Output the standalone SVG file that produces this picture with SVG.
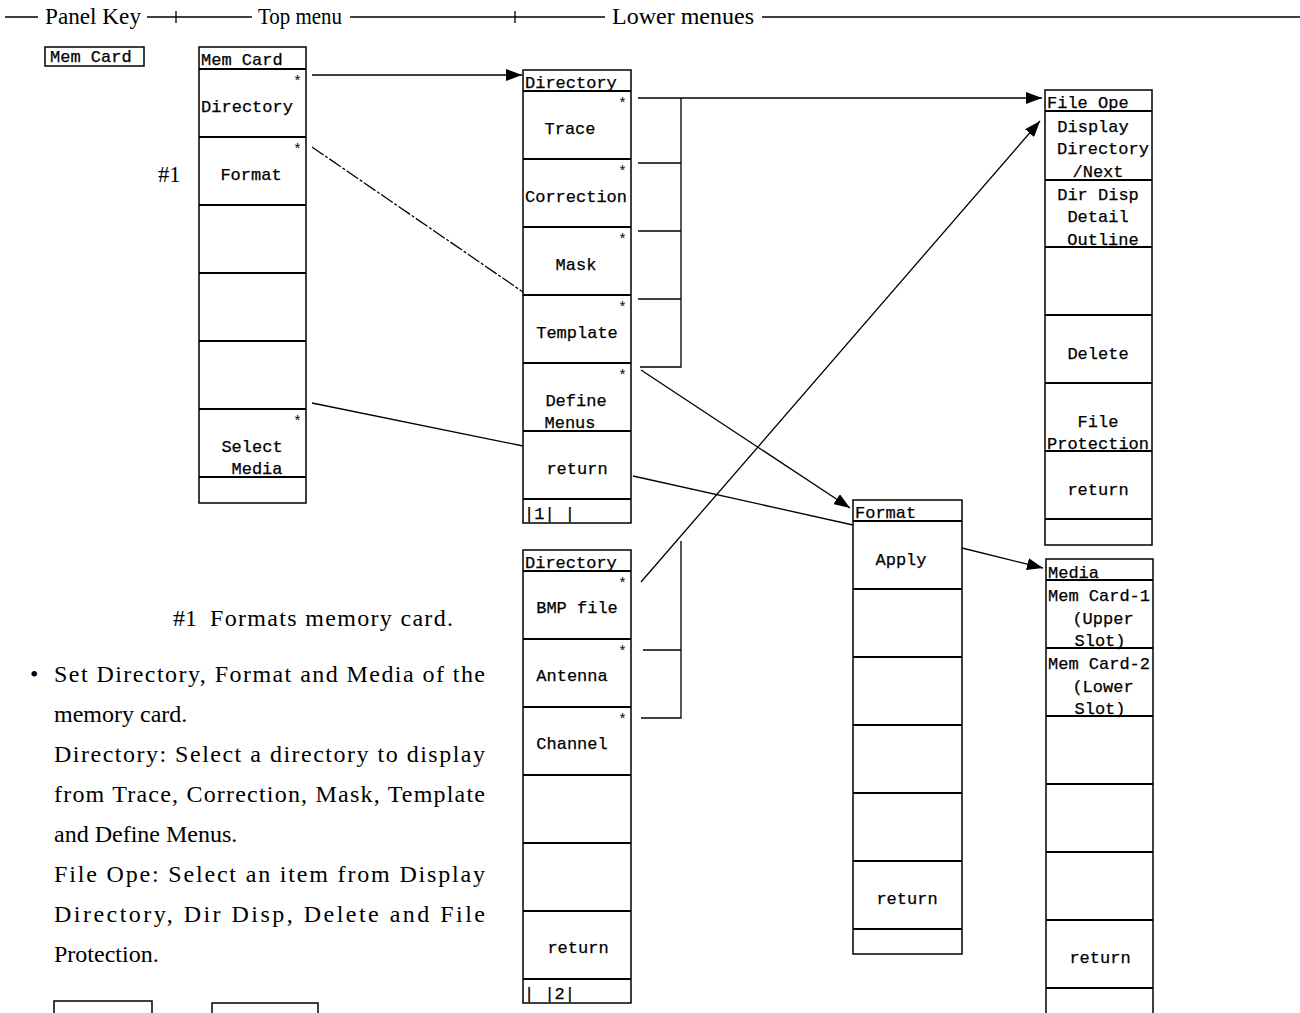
<svg xmlns="http://www.w3.org/2000/svg" width="1300" height="1013" viewBox="0 0 1300 1013">
<defs>
<marker id="ah" markerUnits="userSpaceOnUse" markerWidth="18" markerHeight="12" refX="16" refY="6" orient="auto">
<path d="M0,0 L16,6 L0,12 Z" fill="#000"/>
</marker>
<style>
.box{fill:#fff;stroke:#000;stroke-width:1.5}
.sep{stroke:#000;stroke-width:2}
.m{font-family:"Liberation Mono","DejaVu Sans Mono",monospace;font-size:17px;fill:#000;stroke:#000;stroke-width:0.25}
.c{text-anchor:middle}
.s{font-family:"Liberation Serif","Times New Roman",serif;font-size:24px;fill:#000}
.h{font-family:"Liberation Serif","Times New Roman",serif;font-size:22.5px;fill:#000}
.ln{stroke:#000;stroke-width:1.3;fill:none}
.ast{font-family:"Liberation Mono",monospace;font-size:15px;fill:#000}
</style>
</defs>
<rect width="1300" height="1013" fill="#fff"/>

<g id="header">
<line class="ln" x1="5" y1="17" x2="38" y2="17"/>
<text class="h" x="45" y="24" textLength="96" lengthAdjust="spacingAndGlyphs">Panel Key</text>
<line class="ln" x1="147" y1="17" x2="252" y2="17"/>
<line class="ln" x1="176" y1="11" x2="176" y2="23"/>
<text class="h" x="258" y="24" textLength="84" lengthAdjust="spacingAndGlyphs">Top menu</text>
<line class="ln" x1="350" y1="17" x2="605" y2="17"/>
<line class="ln" x1="515" y1="11" x2="515" y2="23"/>
<text class="h" x="612" y="24" textLength="142" lengthAdjust="spacingAndGlyphs">Lower menues</text>
<line class="ln" x1="762" y1="17" x2="1300" y2="17"/>
</g>

<g id="panel-key">
<rect class="box" x="45" y="47" width="99" height="19"/>
<text class="m" x="50" y="62">Mem Card</text>
</g>

<g id="top-menu">
<rect class="box" x="199" y="47" width="107" height="456"/>
<line class="sep" x1="199" y1="69" x2="306" y2="69"/>
<line class="sep" x1="199" y1="137" x2="306" y2="137"/>
<line class="sep" x1="199" y1="205" x2="306" y2="205"/>
<line class="sep" x1="199" y1="273" x2="306" y2="273"/>
<line class="sep" x1="199" y1="341" x2="306" y2="341"/>
<line class="sep" x1="199" y1="409" x2="306" y2="409"/>
<line class="sep" x1="199" y1="477" x2="306" y2="477"/>
<text class="m" x="201" y="65">Mem Card</text>
<text class="ast" x="293" y="86">*</text>
<text class="m c" x="247" y="112">Directory</text>
<text class="ast" x="293" y="154">*</text>
<text class="m c" x="251" y="180">Format</text>
<text class="ast" x="293" y="426">*</text>
<text class="m c" x="252" y="452">Select</text>
<text class="m c" x="257" y="474">Media</text>
</g>
<text class="h" x="158" y="182">#1</text>

<g id="directory-1">
<rect class="box" x="523" y="70" width="108" height="453"/>
<line class="sep" x1="523" y1="91" x2="631" y2="91"/>
<line class="sep" x1="523" y1="159" x2="631" y2="159"/>
<line class="sep" x1="523" y1="227" x2="631" y2="227"/>
<line class="sep" x1="523" y1="295" x2="631" y2="295"/>
<line class="sep" x1="523" y1="363" x2="631" y2="363"/>
<line class="sep" x1="523" y1="431" x2="631" y2="431"/>
<line class="sep" x1="523" y1="499" x2="631" y2="499"/>
<text class="m" x="525" y="88">Directory</text>
<text class="ast" x="618" y="108">*</text>
<text class="m c" x="570" y="134">Trace</text>
<text class="ast" x="618" y="176">*</text>
<text class="m c" x="576" y="202">Correction</text>
<text class="ast" x="618" y="244">*</text>
<text class="m c" x="576" y="270">Mask</text>
<text class="ast" x="618" y="312">*</text>
<text class="m c" x="577" y="338">Template</text>
<text class="ast" x="618" y="380">*</text>
<text class="m c" x="576" y="406">Define</text>
<text class="m c" x="570" y="428">Menus</text>
<text class="m c" x="577" y="474">return</text>
<text class="m" x="524" y="519">|1| |</text>
</g>

<g id="directory-2">
<rect class="box" x="523" y="550" width="108" height="453"/>
<line class="sep" x1="523" y1="571" x2="631" y2="571"/>
<line class="sep" x1="523" y1="639" x2="631" y2="639"/>
<line class="sep" x1="523" y1="707" x2="631" y2="707"/>
<line class="sep" x1="523" y1="775" x2="631" y2="775"/>
<line class="sep" x1="523" y1="843" x2="631" y2="843"/>
<line class="sep" x1="523" y1="911" x2="631" y2="911"/>
<line class="sep" x1="523" y1="979" x2="631" y2="979"/>
<text class="m" x="525" y="568">Directory</text>
<text class="ast" x="618" y="588">*</text>
<text class="m c" x="577" y="613">BMP file</text>
<text class="ast" x="618" y="656">*</text>
<text class="m c" x="572" y="681">Antenna</text>
<text class="ast" x="618" y="724">*</text>
<text class="m c" x="572" y="749">Channel</text>
<text class="m c" x="578" y="953">return</text>
<text class="m" x="524" y="999">| |2|</text>
</g>

<g id="file-ope">
<rect class="box" x="1045" y="90" width="107" height="455"/>
<line class="sep" x1="1045" y1="111" x2="1152" y2="111"/>
<line class="sep" x1="1045" y1="180" x2="1152" y2="180"/>
<line class="sep" x1="1045" y1="247" x2="1152" y2="247"/>
<line class="sep" x1="1045" y1="315" x2="1152" y2="315"/>
<line class="sep" x1="1045" y1="383" x2="1152" y2="383"/>
<line class="sep" x1="1045" y1="451" x2="1152" y2="451"/>
<line class="sep" x1="1045" y1="519" x2="1152" y2="519"/>
<text class="m" x="1047" y="108">File Ope</text>
<text class="m c" x="1093" y="132">Display</text>
<text class="m c" x="1103" y="154">Directory</text>
<text class="m c" x="1098" y="177">/Next</text>
<text class="m c" x="1098" y="200">Dir Disp</text>
<text class="m c" x="1098" y="222">Detail</text>
<text class="m c" x="1103" y="245">Outline</text>
<text class="m c" x="1098" y="359">Delete</text>
<text class="m c" x="1098" y="427">File</text>
<text class="m c" x="1098" y="449">Protection</text>
<text class="m c" x="1098" y="495">return</text>
</g>

<g id="format">
<rect class="box" x="853" y="500" width="109" height="454"/>
<line class="sep" x1="853" y1="521" x2="962" y2="521"/>
<line class="sep" x1="853" y1="589" x2="962" y2="589"/>
<line class="sep" x1="853" y1="657" x2="962" y2="657"/>
<line class="sep" x1="853" y1="725" x2="962" y2="725"/>
<line class="sep" x1="853" y1="793" x2="962" y2="793"/>
<line class="sep" x1="853" y1="861" x2="962" y2="861"/>
<line class="sep" x1="853" y1="929" x2="962" y2="929"/>
<text class="m" x="855" y="518">Format</text>
<text class="m c" x="901" y="565">Apply</text>
<text class="m c" x="907" y="904">return</text>
</g>

<g id="media">
<rect class="box" x="1046" y="559" width="107" height="460"/>
<line class="sep" x1="1046" y1="580" x2="1153" y2="580"/>
<line class="sep" x1="1046" y1="648" x2="1153" y2="648"/>
<line class="sep" x1="1046" y1="716" x2="1153" y2="716"/>
<line class="sep" x1="1046" y1="784" x2="1153" y2="784"/>
<line class="sep" x1="1046" y1="852" x2="1153" y2="852"/>
<line class="sep" x1="1046" y1="920" x2="1153" y2="920"/>
<line class="sep" x1="1046" y1="988" x2="1153" y2="988"/>
<text class="m" x="1048" y="578">Media</text>
<text class="m c" x="1099" y="601">Mem Card-1</text>
<text class="m c" x="1103" y="624">(Upper</text>
<text class="m c" x="1100" y="646">Slot)</text>
<text class="m c" x="1099" y="669">Mem Card-2</text>
<text class="m c" x="1103" y="692">(Lower</text>
<text class="m c" x="1100" y="714">Slot)</text>
<text class="m c" x="1100" y="963">return</text>
</g>

<g id="bottom-keys">
<rect class="box" x="54" y="1001" width="98" height="20"/>
<rect class="box" x="212" y="1003" width="106" height="20"/>
</g>

<g id="connectors">
<line class="ln" x1="312" y1="75" x2="522" y2="75" stroke-width="2" marker-end="url(#ah)"/>
<line class="ln" x1="638" y1="98" x2="1042" y2="98" stroke-width="1.8" marker-end="url(#ah)"/>
<polyline class="ln" points="638,163 681,163"/>
<polyline class="ln" points="638,231 681,231"/>
<polyline class="ln" points="638,299 681,299"/>
<polyline class="ln" points="640,367 681,367 681,98"/>
<line class="ln" x1="312" y1="147" x2="523" y2="292" stroke-dasharray="14 2 3 2"/>
<line class="ln" x1="641" y1="370" x2="850" y2="508" marker-end="url(#ah)"/>
<line class="ln" x1="312" y1="403" x2="523" y2="446"/>
<line class="ln" x1="633" y1="476" x2="853" y2="525"/>
<line class="ln" x1="962" y1="548" x2="1043" y2="568" marker-end="url(#ah)"/>
<line class="ln" x1="641" y1="582" x2="1040" y2="121" marker-end="url(#ah)"/>
<polyline class="ln" points="681,541 681,718 641,718"/>
<line class="ln" x1="643" y1="650" x2="681" y2="650"/>
</g>

<g id="notes">
<text class="s" x="173" y="626">#1</text>
<text class="s" x="210" y="626" textLength="243" lengthAdjust="spacing">Formats memory card.</text>
<text class="s" x="30" y="682">•</text>
<text class="s" x="54" y="682" textLength="431" lengthAdjust="spacing">Set Directory, Format and Media of the</text>
<text class="s" x="54" y="722">memory card.</text>
<text class="s" x="54" y="762" textLength="431" lengthAdjust="spacing">Directory: Select a directory to display</text>
<text class="s" x="54" y="802" textLength="431" lengthAdjust="spacing">from Trace, Correction, Mask, Template</text>
<text class="s" x="54" y="842">and Define Menus.</text>
<text class="s" x="54" y="882" textLength="431" lengthAdjust="spacing">File Ope: Select an item from Display</text>
<text class="s" x="54" y="922" textLength="431" lengthAdjust="spacing">Directory, Dir Disp, Delete and File</text>
<text class="s" x="54" y="962">Protection.</text>
</g>
</svg>
